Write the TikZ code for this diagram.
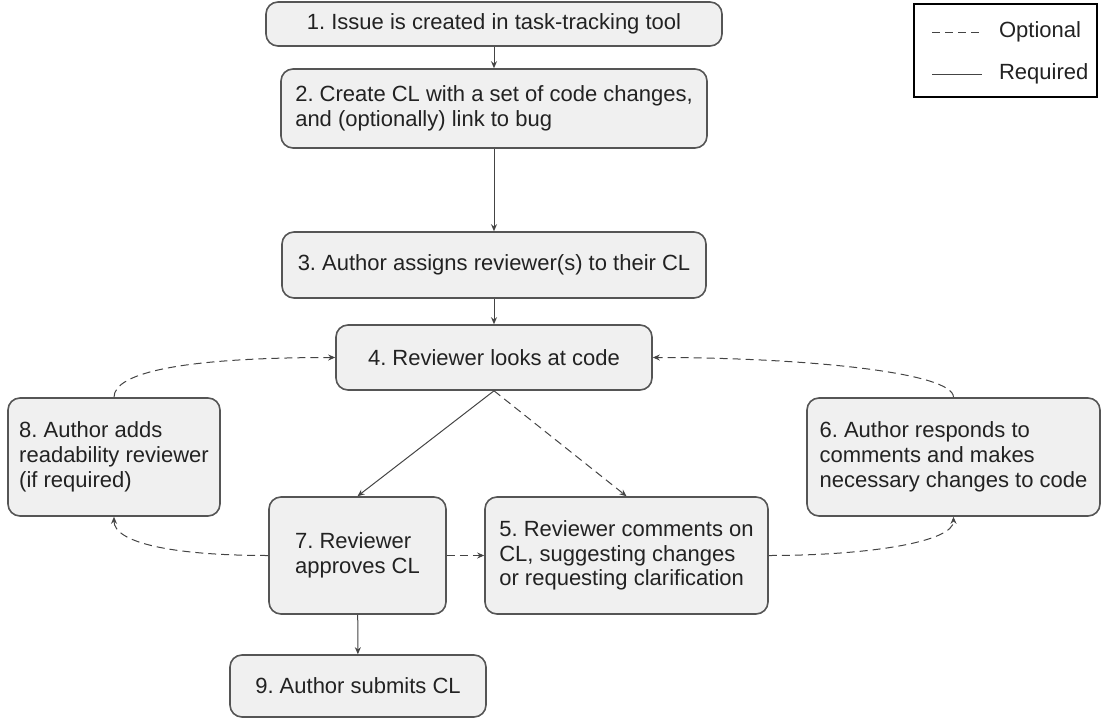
\documentclass[tikz,border=0pt]{standalone}
\usepackage{fontspec}
\setmainfont{Liberation Sans}
\usetikzlibrary{arrows.meta,positioning}
\definecolor{boxfill}{HTML}{F0F0F0}
\definecolor{boxline}{HTML}{555555}
\definecolor{arrowline}{HTML}{444444}
\definecolor{boxtext}{HTML}{222222}
\frenchspacing
\tikzset{
  stepbox/.style={draw=boxline,fill=boxfill,line width=0.8pt,rounded corners=6pt,
    align=left,inner sep=0pt,text=boxtext,font=\fontsize{11}{12.4}\selectfont},
  required/.style={draw=arrowline,line width=0.5pt,-{Stealth[length=3.5pt,width=3pt]}},
  optional/.style={required,dash pattern=on 4pt off 2.5pt},
}
\begin{document}
\begin{tikzpicture}[x=0.5pt,y=-0.5pt]
\useasboundingbox (0,0) rectangle (1104,718);

\node[stepbox,minimum width=228pt,minimum height=22pt] (issue) at (494,24)
  {1. Issue is created in task-tracking tool};
\node[stepbox,minimum width=213pt,minimum height=39.5pt] (createcl) at (494,108.5)
  {2. Create CL with a set of code changes,\\and (optionally) link to bug};
\node[stepbox,minimum width=212pt,minimum height=33pt] (assign) at (494,265)
  {3. Author assigns reviewer(s) to their CL};
\node[stepbox,minimum width=158pt,minimum height=32.5pt] (review) at (494,357.5)
  {4. Reviewer looks at code};
\node[stepbox,minimum width=106pt,minimum height=59pt] (readability) at (114,457)
  {8. Author adds\\readability reviewer\\(if required)};
\node[stepbox,minimum width=146.5pt,minimum height=59pt] (responds) at (953.5,457)
  {6. Author responds to\\comments and makes\\necessary changes to code};
\node[stepbox,minimum width=88.5pt,minimum height=58.5pt] (approves) at (357.5,555.5)
  {7. Reviewer\\approves CL};
\node[stepbox,minimum width=141.5pt,minimum height=58.5pt] (comments) at (626.5,555.5)
  {5. Reviewer comments on\\CL, suggesting changes\\or requesting clarification};
\node[stepbox,minimum width=128pt,minimum height=31pt] (submits) at (358,686)
  {9. Author submits CL};

% legend
\draw[line width=0.6pt] (914,4) rectangle (1097,97);
\draw[optional,-] (932,32) -- (982,32);
\node[anchor=west,text=boxtext,font=\fontsize{11}{12.4}\selectfont] (optlabel) at (992,32) {Optional};
\draw[required,-] (932,74) -- (982,74);
\node[anchor=west,text=boxtext,font=\fontsize{11}{12.4}\selectfont] (reqlabel) at (992,74) {Required};

\draw[required] (issue) -- (createcl);
\draw[required] (createcl) -- (assign);
\draw[required] (assign) -- (review);
\draw[required] (review.south) -- (approves.north);
\draw[optional] (review.south) -- (comments.north);
\draw[optional] (approves) -- (comments);
\draw[required] (approves) -- (submits);
\draw[optional] (approves.west) .. controls +(-100,0) and +(0,25) .. (readability.south);
\draw[optional] (comments.east) .. controls +(100,0) and +(0,25) .. (responds.south);
\draw[optional] (readability.north) .. controls +(0,-25) and +(-150,0) .. (review.west);
\draw[optional] (responds.north) .. controls +(0,-25) and +(150,0) .. (review.east);
\end{tikzpicture}
\end{document}
